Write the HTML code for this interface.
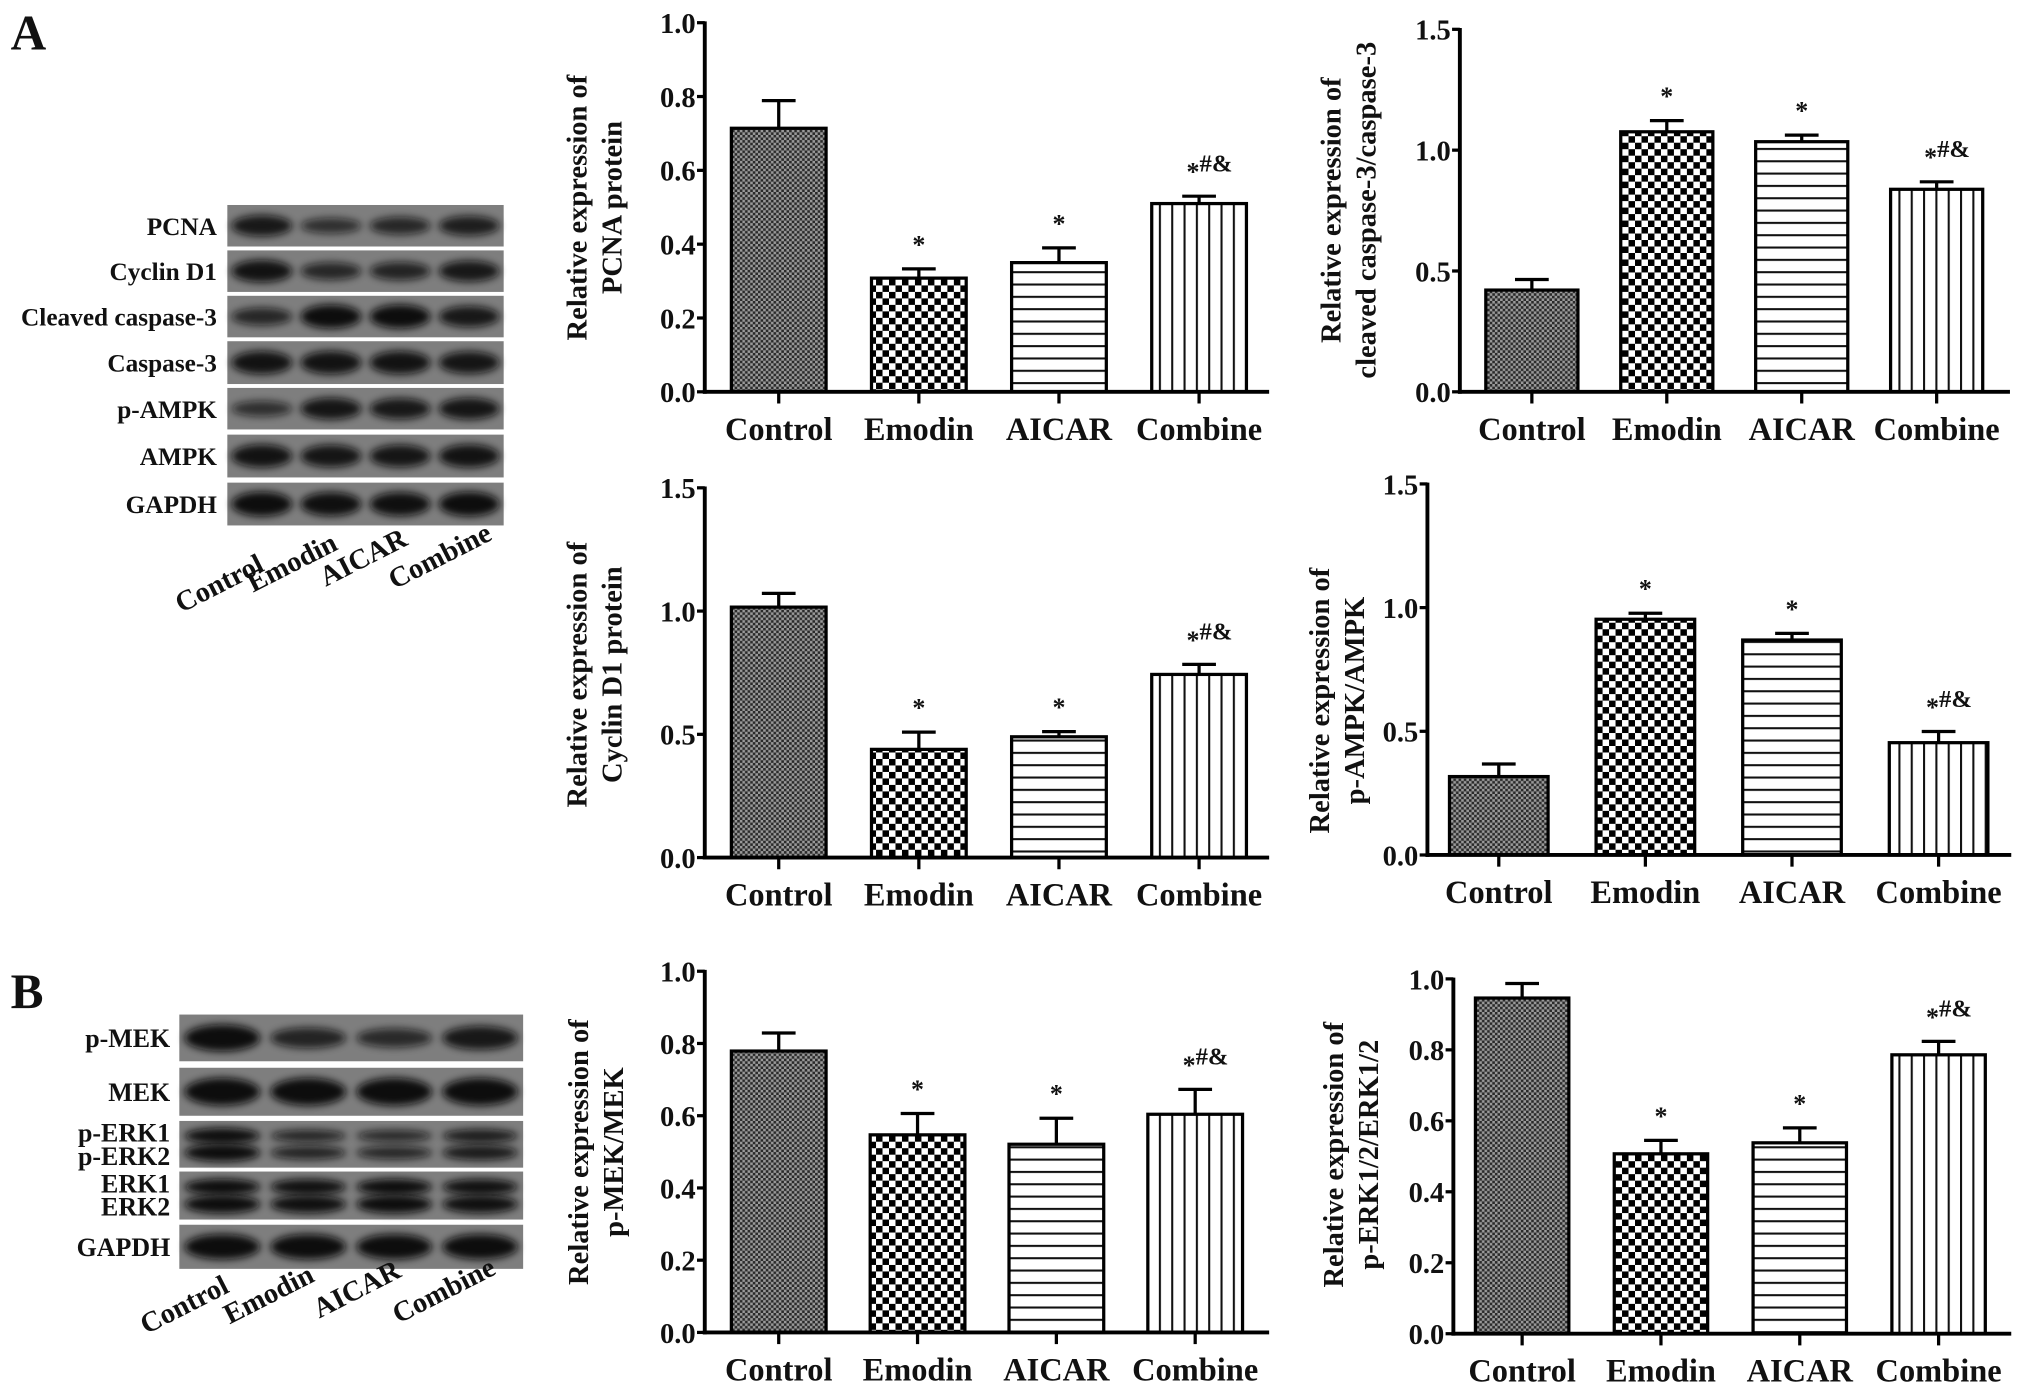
<!DOCTYPE html>
<html><head><meta charset="utf-8">
<style>
html,body{margin:0;padding:0;background:#fff;}
svg{display:block;}
text{font-family:"Liberation Serif",serif;font-weight:bold;fill:#111;}
</style></head>
<body>
<svg id="fig" width="2031" height="1396" viewBox="0 0 1565 1076" xmlns="http://www.w3.org/2000/svg">
<defs>
  <pattern id="pat-dots" width="4" height="4" patternUnits="userSpaceOnUse">
    <rect width="4" height="4" fill="#9a9a9a"/>
    <rect width="2" height="2" fill="#2a2a2a"/>
    <rect x="2" y="2" width="2" height="2" fill="#2a2a2a"/>
  </pattern>
  <pattern id="pat-check" width="10" height="10" patternUnits="userSpaceOnUse">
    <rect width="10" height="10" fill="#fff"/>
    <rect width="5" height="5" fill="#000"/>
    <rect x="5" y="5" width="5" height="5" fill="#000"/>
  </pattern>
  <pattern id="pat-h" width="10" height="9.5" patternUnits="userSpaceOnUse">
    <rect width="10" height="9.5" fill="#fff"/>
    <rect y="0" width="10" height="1.6" fill="#111"/>
  </pattern>
  <pattern id="pat-v" width="9.5" height="10" patternUnits="userSpaceOnUse">
    <rect width="9.5" height="10" fill="#fff"/>
    <rect x="0" width="1.6" height="10" fill="#111"/>
  </pattern>
  <filter id="blur" x="-20%" y="-50%" width="140%" height="200%"><feGaussianBlur stdDeviation="3"/></filter>
</defs>
<text x="8" y="38" font-size="38">A</text>
<text x="8" y="777" font-size="38">B</text>
<g id="blots"></g>
<g id="charts"></g>
</svg>
<script>
const NS = "http://www.w3.org/2000/svg";
const svg = document.getElementById('fig');
const chartsG = document.getElementById('charts');
const blotsG = document.getElementById('blots');

// ---- data ----
const categories = ["Control", "Emodin", "AICAR", "Combine"];
const sigLabels = ["", "*", "*", "*#&"];
const pcnaValues = [0.714, 0.308, 0.350, 0.510];
const pcnaErrors = [0.075, 0.025, 0.040, 0.020];
const pcnaTicks = ["0.0", "0.2", "0.4", "0.6", "0.8", "1.0"];
const caspValues = [0.421, 1.076, 1.035, 0.838];
const caspErrors = [0.044, 0.046, 0.027, 0.031];
const caspTicks = ["0.0", "0.5", "1.0", "1.5"];
const cyclinValues = [1.016, 0.439, 0.490, 0.743];
const cyclinErrors = [0.056, 0.070, 0.021, 0.041];
const cyclinTicks = ["0.0", "0.5", "1.0", "1.5"];
const ampkValues = [0.317, 0.953, 0.869, 0.454];
const ampkErrors = [0.051, 0.024, 0.027, 0.045];
const ampkTicks = ["0.0", "0.5", "1.0", "1.5"];
const mekValues = [0.779, 0.547, 0.521, 0.604];
const mekErrors = [0.050, 0.059, 0.072, 0.069];
const mekTicks = ["0.0", "0.2", "0.4", "0.6", "0.8", "1.0"];
const erkValues = [0.946, 0.507, 0.538, 0.786];
const erkErrors = [0.041, 0.038, 0.042, 0.038];
const erkTicks = ["0.0", "0.2", "0.4", "0.6", "0.8", "1.0"];

const fills = ["url(#pat-dots)", "url(#pat-check)", "url(#pat-h)", "url(#pat-v)"];

function mk(tag, attrs, parent) {
  const e = document.createElementNS(NS, tag);
  for (const k in attrs) e.setAttribute(k, attrs[k]);
  (parent || svg).appendChild(e);
  return e;
}

const charts = [
  {name:"pcna", values:pcnaValues, errors:pcnaErrors, ticks:pcnaTicks, max:1.0, ax:543, y0:302, yTop:17.5, xEnd:978, off:57, step:108, bw:73, t1:"Relative expression of", t2:"PCNA protein", tx:452, ty:160},
  {name:"cleaved-caspase", values:caspValues, errors:caspErrors, ticks:caspTicks, max:1.5, ax:1125, y0:302, yTop:22.6, xEnd:1549, off:55.5, step:104, bw:71, t1:"Relative expression of", t2:"cleaved caspase-3/caspase-3", tx:1033, ty:162},
  {name:"cyclin-d1", values:cyclinValues, errors:cyclinErrors, ticks:cyclinTicks, max:1.5, ax:543, y0:661, yTop:376, xEnd:978, off:57, step:108, bw:73, t1:"Relative expression of", t2:"Cyclin D1 protein", tx:452, ty:520},
  {name:"p-ampk", values:ampkValues, errors:ampkErrors, ticks:ampkTicks, max:1.5, ax:1100, y0:659, yTop:373, xEnd:1550, off:55, step:113, bw:76, t1:"Relative expression of", t2:"p-AMPK/AMPK", tx:1024, ty:540},
  {name:"p-mek", values:mekValues, errors:mekErrors, ticks:mekTicks, max:1.0, ax:543, y0:1027, yTop:748.6, xEnd:978, off:57, step:107, bw:73, t1:"Relative expression of", t2:"p-MEK/MEK", tx:453, ty:888},
  {name:"p-erk", values:erkValues, errors:erkErrors, ticks:erkTicks, max:1.0, ax:1120, y0:1028, yTop:754.5, xEnd:1550, off:53, step:107, bw:72, t1:"Relative expression of", t2:"p-ERK1/2/ERK1/2", tx:1035, ty:890}
];

charts.forEach(c => {
  const g = mk('g', {}, chartsG);
  
  
  const yS = v => c.y0 - (v / c.max) * (c.y0 - c.yTop);
  const xC = i => c.ax + c.off + i * c.step;
  c.values.forEach((v, i) => {
    const top = yS(v), et = yS(v + c.errors[i]);
    const eb = mk('line', {x1:xC(i), x2:xC(i), y1:top, y2:et, stroke:'#000', 'stroke-width':2.5}, g);
    
    
    const cap = mk('line', {x1:xC(i)-13, x2:xC(i)+13, y1:et, y2:et, stroke:'#000', 'stroke-width':2.5}, g);
    
    
    const r = mk('rect', {x:xC(i)-c.bw/2, y:top, width:c.bw, height:c.y0-top, fill:fills[i], stroke:'#000', 'stroke-width':2.5}, g);
    
    
    if (sigLabels[i]) {
      const t = mk('text', {x:xC(i), y:et-12, 'text-anchor':'middle', 'font-size':20, fill:'#222'}, g);
      
      
      if (sigLabels[i] === "*") { t.textContent = "*"; }
      else {
        const s1 = mk('tspan', {}, t); s1.textContent = "*";
        const s2 = mk('tspan', {dy:-7, 'font-size':19}, t); s2.textContent = "#&";
        t.setAttribute('x', xC(i)+8);
      }
    }
    const tk = mk('line', {x1:xC(i), x2:xC(i), y1:c.y0, y2:c.y0+9, stroke:'#000', 'stroke-width':2.5}, g);
    
    
    const lb = mk('text', {x:xC(i), y:c.y0+37, 'text-anchor':'middle', 'font-size':25}, g);
    lb.textContent = categories[i];
    
    
  });
  const ya = mk('line', {x1:c.ax, x2:c.ax, y1:c.yTop-1, y2:c.y0+1.5, stroke:'#000', 'stroke-width':3}, g);
  
  
  const xa = mk('line', {x1:c.ax-1.5, x2:c.xEnd, y1:c.y0, y2:c.y0, stroke:'#000', 'stroke-width':3}, g);
  
  
  c.ticks.forEach((tl, k) => {
    const v = c.max * k / (c.ticks.length - 1);
    const y = yS(v);
    const t = mk('line', {x1:c.ax-6, x2:c.ax, y1:y, y2:y, stroke:'#000', 'stroke-width':2.5}, g);
    
    
    const tx = mk('text', {x:c.ax-7, y:y+8, 'text-anchor':'end', 'font-size':22}, g);
    tx.textContent = tl;
    
    
  });
  const title = mk('text', {transform:`translate(${c.tx},${c.ty}) rotate(-90)`, 'text-anchor':'middle', 'font-size':22}, g);
  
  
  const a = mk('tspan', {x:0, y:0}, title); a.textContent = c.t1;
  const b = mk('tspan', {x:0, y:27}, title); b.textContent = c.t2;
});

// ---- western blots ----
const blotA = {x:175, w:213, labelX:167, fs:19.5,
  rows:[["PCNA",158,190,[0.8,0.4,0.55,0.7],[1]],["Cyclin D1",193,225,[0.9,0.55,0.6,0.8],[1]],["Cleaved caspase-3",228,260,[0.55,1,1,0.8],[1]],
        ["Caspase-3",263,296,[0.9,0.9,0.9,0.85],[1]],["p-AMPK",299,331,[0.4,0.85,0.8,0.85],[1]],["AMPK",335,368,[0.9,0.85,0.85,0.9],[1]],["GAPDH",372,405,[1,0.95,0.95,1],[1]]],
  lanes:[[172,456],[228,440],[283,436],[342,435]]};
const blotB = {x:138, w:265, labelX:131, fs:20,
  rows:[["p-MEK",782,818,[1,0.6,0.5,0.8],[1]],["MEK",823,860,[1,1,1,1],[1]],["p-ERK1|p-ERK2",864,900,[1,0.6,0.55,0.75],[2]],
        ["ERK1|ERK2",903,940,[1,0.95,1,0.95],[2]],["GAPDH",944,978,[1,1,1,1],[1]]],
  lanes:[[145,1012],[210,1004],[278,1000],[345,1001]]};

[["a",blotA],["b",blotB]].forEach(([id, B]) => {
  const lw = B.w / 4;
  B.rows.forEach(r => {
    const [name, y1, y2, inten, nb] = r;
    const g = mk('g', {}, blotsG);
    
    
    mk('rect', {x:B.x, y:y1, width:B.w, height:y2-y1, fill:'#7e7e7e'}, g);
    const h = y2 - y1;
    for (let i = 0; i < 4; i++) {
      const cx = B.x + lw * (i + 0.5);
      const k = inten[i];
      if (nb[0] === 1) {
        mk('ellipse', {cx:cx, cy:(y1+y2)/2, rx:lw*0.44, ry:h*0.24*(0.5+k*0.7), fill:'#0a0a0a', opacity:0.5+0.5*k, filter:'url(#blur)'}, g);
      } else {
        mk('ellipse', {cx:cx, cy:y1+h*0.32, rx:lw*0.44, ry:h*0.14*(0.5+k*0.7), fill:'#0a0a0a', opacity:0.5+0.5*k, filter:'url(#blur)'}, g);
        mk('ellipse', {cx:cx, cy:y1+h*0.68, rx:lw*0.44, ry:h*0.16*(0.5+k*0.7), fill:'#0a0a0a', opacity:0.5+0.5*k, filter:'url(#blur)'}, g);
      }
    }
    const parts = name.split('|');
    if (parts.length === 1) {
      const t = mk('text', {x:B.labelX, y:(y1+y2)/2+7, 'text-anchor':'end', 'font-size':B.fs}, g);
      t.textContent = name;
      
      
    } else {
      parts.forEach((p, j) => {
        const t = mk('text', {x:B.labelX, y:y1+16+j*18, 'text-anchor':'end', 'font-size':B.fs}, g);
        t.textContent = p;
        
        
      });
    }
  });
  B.lanes.forEach((p, i) => {
    const t = mk('text', {transform:`translate(${p[0]},${p[1]}) rotate(-27)`, 'text-anchor':'middle', 'font-size':22}, blotsG);
    t.textContent = categories[i];
    
    
  });
});
</script>
</body></html>
